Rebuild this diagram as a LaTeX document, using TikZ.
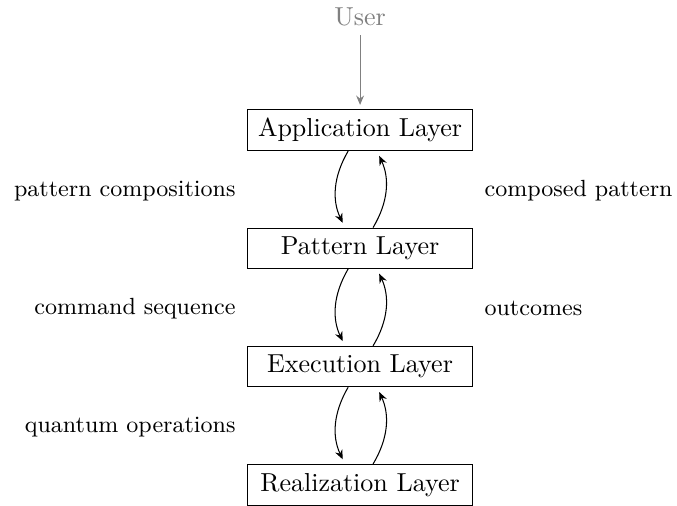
\documentclass[tikz,border=0pt]{standalone}
\usetikzlibrary{arrows.meta,calc}
\begin{document}
\begin{tikzpicture}[
  layerbox/.style={draw, minimum width=86.6pt, minimum height=15.4pt, inner sep=3.33pt},
  flow/.style={-{Stealth[length=3.6pt,width=3pt]}, shorten >=2pt},
  lbl/.style={inner sep=0pt, font=\small}
]
\useasboundingbox (0,0) rectangle (260.4pt,194.6pt);
\node[layerbox] (app) at (138.5pt,144.6pt) {Application Layer};
\node[layerbox] (pat) at (138.5pt,99.1pt) {Pattern Layer};
\node[layerbox] (exe) at (138.5pt,53.6pt) {Execution Layer};
\node[layerbox] (rea) at (138.5pt,8.1pt) {Realization Layer};
\node[text=gray] (user) at (138.5pt,188.1pt) {User};
\draw[gray, -{Stealth[length=3.6pt,width=3pt]}, shorten >=1.5pt] (user) -- (app);

\draw[flow] ($(app.south)+(-4.6pt,0)$) to[bend right=28] ($(pat.north)+(-5.8pt,0)$);
\draw[flow] ($(pat.north)+(5.0pt,0)$) to[bend right=28] ($(app.south)+(6.5pt,0)$);
\draw[flow] ($(pat.south)+(-4.6pt,0)$) to[bend right=28] ($(exe.north)+(-5.8pt,0)$);
\draw[flow] ($(exe.north)+(5.0pt,0)$) to[bend right=28] ($(pat.south)+(6.5pt,0)$);
\draw[flow] ($(exe.south)+(-4.6pt,0)$) to[bend right=28] ($(rea.north)+(-5.8pt,0)$);
\draw[flow] ($(rea.north)+(5.0pt,0)$) to[bend right=28] ($(exe.south)+(6.5pt,0)$);

\node[lbl, anchor=east] (l1) at (90.8pt,121.2pt) {pattern compositions};
\node[lbl, anchor=west] (r1) at (186.2pt,121.2pt) {composed pattern};
\node[lbl, anchor=east] (l2) at (90.8pt,75.8pt) {command sequence};
\node[lbl, anchor=west] (r2) at (186.2pt,75.8pt) {outcomes};
\node[lbl, anchor=east] (l3) at (90.8pt,30.4pt) {quantum operations};
\end{tikzpicture}
\end{document}
